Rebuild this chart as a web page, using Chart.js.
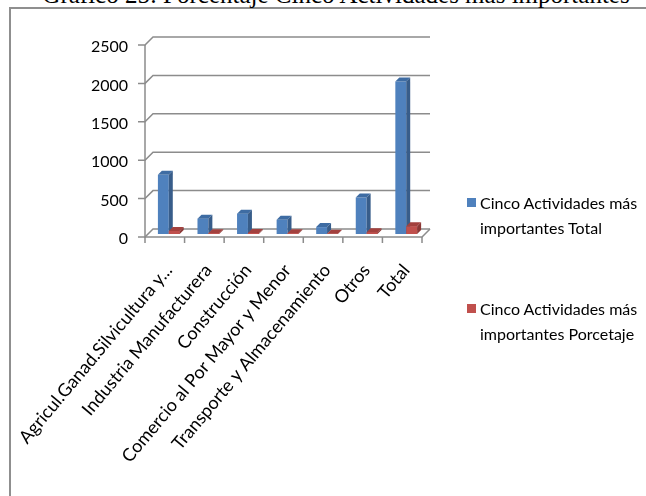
<!DOCTYPE html>
<html>
<head>
<meta charset="utf-8">
<script src="https://cdn.jsdelivr.net/npm/chart.js@4.4.1/dist/chart.umd.min.js"></script>
<style>
  body { margin: 0; background: #fff; }
  #frame { position: absolute; left: 9px; top: 7px; width: 800px; height: 800px; border: 2px solid #8f8f8f; }
  #title { position: absolute; left: 0; top: -18px; width: 672px; text-align: center;
           font: 25px "Liberation Serif", serif; line-height: 25px; color: #000; white-space: nowrap; }
  #box { position: absolute; left: 0; top: 0; width: 646px; height: 496px; }
  .leg { position: absolute; left: 467px; font: 16px Lato, sans-serif; line-height: 25px; color: #000; }
  .leg span { position: absolute; left: 0; width: 9px; height: 9px; }
  .leg div { margin-left: 13px; white-space: nowrap; }
</style>
</head>
<body>
<div id="frame"></div>
<div id="title">Gráfico 25: Porcentaje Cinco Actividades más importantes</div>
<div id="box"><canvas id="graph1"></canvas></div>
<div class="leg" style="top:190px"><span style="top:8px;background:#4F81BD"></span><div>Cinco Actividades más<br>importantes Total</div></div>
<div class="leg" style="top:296px"><span style="top:8px;background:#C0504D"></span><div>Cinco Actividades más<br>importantes Porcetaje</div></div>
<script>
// categorias (eje x)
var categorias = ["Agricul.Ganad.Silvicultura y...", "Industria Manufacturera", "Construcción",
  "Comercio al Por Mayor y Menor", "Transporte y Almacenamiento", "Otros", "Total"];

// series
var serieTotal = [770, 200, 265, 185, 90, 475, 1985];
var seriePorcentaje = [38.8, 10.1, 13.4, 9.3, 4.5, 23.9, 100];

// eje y
var ticksY = [0, 500, 1000, 1500, 2000, 2500];

var prof = 4; // profundidad de las barras (px)

// plugin para simular el 3D de Excel
var falso3d = {
  id: "falso3d",
  beforeDatasetsDraw: function(chart) {
    var ctx = chart.ctx, a = chart.chartArea, y = chart.scales.y;
    var fx = a.left - 4, bx = a.left + 4, fr = a.right - 4, br = a.right + 4;
    ctx.save();
    ctx.strokeStyle = "#8c8c8c";
    ctx.lineWidth = 1.5;
    ticksY.forEach(function(v) {
      var py = y.getPixelForValue(v);
      ctx.beginPath();
      ctx.moveTo(fx - 7, py + 3);
      ctx.lineTo(fx, py + 3);
      ctx.lineTo(bx, py - 5);
      ctx.lineTo(br, py - 5);
      ctx.stroke();
    });
    var y0 = y.getPixelForValue(0);
    var yTop = y.getPixelForValue(ticksY[ticksY.length - 1]);
    ctx.beginPath();
    ctx.moveTo(fx, yTop + 3);
    ctx.lineTo(fx, y0 + 3);
    ctx.lineTo(fr, y0 + 3);
    ctx.lineTo(br, y0 - 5);
    ctx.stroke();
    var w = (a.right - a.left) / categorias.length;
    ctx.beginPath();
    for (let i = 0; i <= categorias.length; i++) {
      ctx.moveTo(fx + i * w, y0 + 3);
      ctx.lineTo(fx + i * w, y0 + 9);
    }
    ctx.stroke();
    ctx.restore();
  },
  afterDatasetsDraw: function(chart) {
    var ctx = chart.ctx;
    chart.data.datasets.forEach(function(ds, i) {
      var meta = chart.getDatasetMeta(i);
      if (i > 0) meta.data.forEach(function(b) { b.draw(ctx); });
      meta.data.forEach(function(b) {
        var p = b.getProps(["x", "y", "base", "width"], true);
        var l = p.x - p.width / 2, r = p.x + p.width / 2;
        ctx.fillStyle = ds.colorArriba;
        ctx.beginPath();
        ctx.moveTo(l, p.y); ctx.lineTo(l + prof, p.y - prof);
        ctx.lineTo(r + prof, p.y - prof); ctx.lineTo(r, p.y);
        ctx.closePath(); ctx.fill();
        ctx.fillStyle = ds.colorLado;
        ctx.beginPath();
        ctx.moveTo(r, p.y); ctx.lineTo(r + prof, p.y - prof);
        ctx.lineTo(r + prof, p.base - prof); ctx.lineTo(r, p.base);
        ctx.closePath(); ctx.fill();
      });
    });
  }
};

var ctx = document.getElementById("graph1").getContext("2d");
const myChart = new Chart(ctx, {
  type: "bar",
  data: {
    labels: categorias,
    datasets: [
      { label: "Cinco Actividades más importantes Total", data: serieTotal,
        backgroundColor: "#4F81BD", colorLado: "#385D8A", colorArriba: "#3E6CA3" },
      { label: "Cinco Actividades más importantes Porcetaje", data: seriePorcentaje,
        backgroundColor: "#C0504D", colorLado: "#8C3836", colorArriba: "#A3413E" }
    ]
  },
  options: {
    responsive: true,
    maintainAspectRatio: false,
    animation: false,
    devicePixelRatio: 1,
    layout: { padding: { top: 42, right: 220, left: 0, bottom: 0 } },
    datasets: { bar: { categoryPercentage: 0.55, barPercentage: 1.0 } },
    plugins: { legend: { display: false }, tooltip: { enabled: false } },
    scales: {
      x: {
        grid: { display: false, drawTicks: false },
        border: { display: false },
        ticks: { autoSkip: false, minRotation: 50, maxRotation: 50, padding: 26,
                 color: "#000", font: { family: "Lato", size: 18 } },
        afterFit: function(s) { s.height = 262; s.paddingLeft = 0; s.paddingRight = 0; }
      },
      y: {
        min: 0, max: 2500,
        grid: { display: false, drawTicks: false },
        border: { display: false },
        ticks: { stepSize: 500, padding: 21, labelOffset: 5,
                 callback: function(v) { return String(v); },
                 color: "#000", font: { family: "Lato", size: 16 } },
        afterFit: function(s) { s.width = 149; s.paddingTop = 0; s.paddingBottom = 0; }
      }
    }
  },
  plugins: [falso3d]
});
</script>
</body>
</html>
